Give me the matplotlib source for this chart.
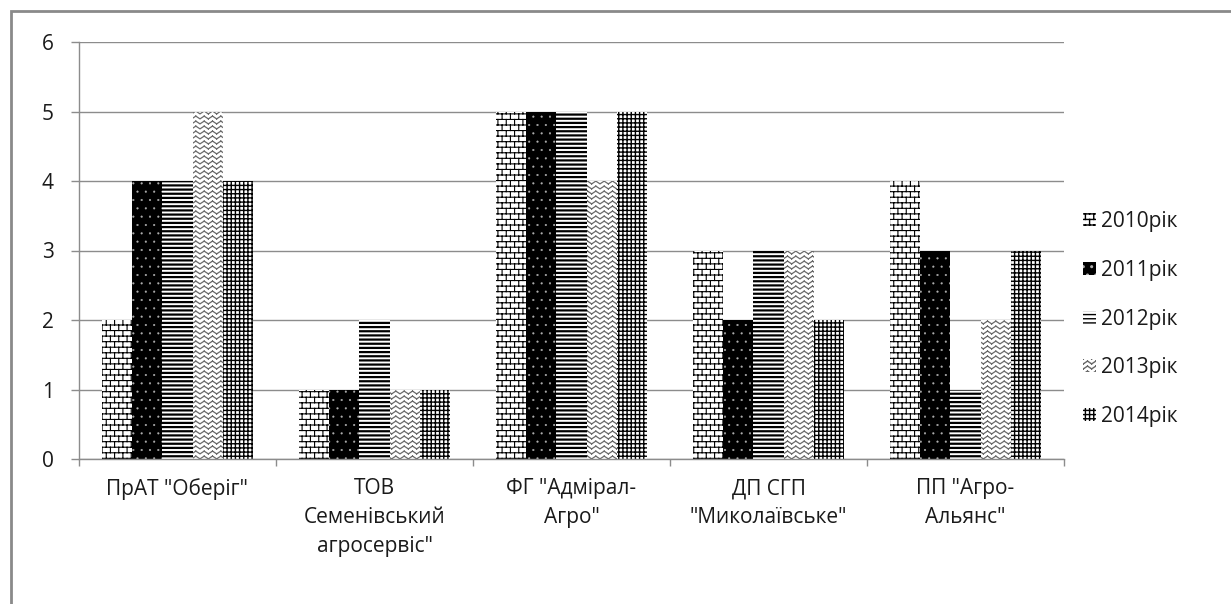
import numpy as np
import matplotlib
matplotlib.use('Agg')
import matplotlib.pyplot as plt
import matplotlib.hatch as mhatch
from matplotlib.path import Path
from matplotlib.patches import Rectangle

# ---------------- data ----------------
categories = ['ПрАТ "Оберіг"', 'ТОВ\nСеменівський\nагросервіс"', 'ФГ "Адмірал-\nАгро"',
              'ДП СГП\n"Миколаївське"', 'ПП "Агро-\nАльянс"']
series_names = ['2010рік', '2011рік', '2012рік', '2013рік', '2014рік']
v2010 = [2, 1, 5, 3, 4]
v2011 = [4, 1, 5, 2, 3]
v2012 = [4, 2, 5, 3, 1]
v2013 = [5, 1, 4, 3, 2]
v2014 = [4, 1, 5, 2, 3]
y_ticks = [0, 1, 2, 3, 4, 5, 6]

# ---------------- custom hatch patterns ----------------
def _segments_path(segs):
    verts, codes = [], []
    for (x0, y0, x1, y1) in segs:
        verts += [(x0, y0), (x1, y1)]
        codes += [Path.MOVETO, Path.LINETO]
    return Path(np.array(verts, float), np.array(codes, dtype=Path.code_type))

def brick_path(rows=18, cols=12):
    segs = []
    ys = [(i + 0.5) / rows for i in range(rows)]
    for i in range(rows):
        y0 = ys[i]
        segs.append((0, y0, 1, y0))
        off = 0.5 * (i % 2)
        for j in range(cols):
            x = (j + 0.25 + off) / cols
            if i < rows - 1:
                segs.append((x, y0, x, ys[i + 1]))
            else:
                segs.append((x, y0, x, 1.0))
                segs.append((x, 0.0, x, ys[0]))
    return _segments_path(segs)

def zigzag_path(rows=20, periods=12):
    segs = []
    amp = 0.55 / rows
    n = 2 * periods
    for i in range(rows):
        yb = (i + 0.5) / rows
        pts = [(k / n, yb + amp * ((k % 2) - 0.5)) for k in range(n + 1)]
        for a, b in zip(pts[:-1], pts[1:]):
            segs.append((a[0], a[1], b[0], b[1]))
    return _segments_path(segs)

_orig_get_path = mhatch.get_path
_orig_validate = mhatch._validate_hatch_pattern

def _validate(h):
    if h in ('B', 'Z'):
        return
    _orig_validate(h)

def _get_path(h, density=6):
    if h == 'B':
        return brick_path()
    if h == 'Z':
        return zigzag_path()
    return _orig_get_path(h, density)

mhatch._validate_hatch_pattern = _validate
mhatch.get_path = _get_path

# ---------------- figure ----------------
W, H, DPI = 1231, 604, 100
plt.rcParams['font.family'] = ['Open Sans', 'DejaVu Sans']
plt.rcParams['hatch.linewidth'] = 1.0
fig = plt.figure(figsize=(W / DPI, H / DPI), dpi=DPI)
fig.patch.set_facecolor('white')

FS = 15
left, right, top, bottom = 79, 1064, 42, 459
ax = fig.add_axes([left / W, 1 - bottom / H, (right - left) / W, (bottom - top) / H])

series = [v2010, v2011, v2012, v2013, v2014]
styles = [
    dict(facecolor='white', edgecolor='black', hatch='B', hlw=0.8),
    dict(facecolor='black', edgecolor='#b0b0b0', hatch='..', hlw=0.3),
    dict(facecolor='white', edgecolor='black', hatch='----', hlw=1.6),
    dict(facecolor='white', edgecolor='#6a6a6a', hatch='Z', hlw=0.9),
    dict(facecolor='white', edgecolor='black', hatch='++++', hlw=1.0),
]
n = len(series)
bw = 0.154
x = np.arange(len(categories))
for j, (vals, st, name) in enumerate(zip(series, styles, series_names)):
    bars = ax.bar(x + (j - (n - 1) / 2) * bw, vals, width=bw,
                  facecolor=st['facecolor'], edgecolor=st['edgecolor'],
                  hatch=st['hatch'], linewidth=0, label=name, zorder=2)
    for p in bars:
        if hasattr(p, '_hatch_linewidth'):
            p._hatch_linewidth = st['hlw']

ax.set_xlim(-0.5, len(categories) - 0.5)
ax.set_ylim(0, 6)
ax.set_yticks(y_ticks)
ax.set_yticklabels([str(t) for t in y_ticks])
ax.yaxis.grid(True, color='#8c8c8c', linewidth=1.0)
ax.set_axisbelow(True)

gray = '#8c8c8c'
for s in ['top', 'right']:
    ax.spines[s].set_visible(False)
for s in ['left', 'bottom']:
    ax.spines[s].set_color(gray)
    ax.spines[s].set_linewidth(1.0)

ax.set_xticks(x)
ax.set_xticklabels(categories, linespacing=1.5)
ax.set_xticks(np.arange(-0.5, len(categories)), minor=True)
ax.tick_params(axis='x', which='major', length=0, pad=14, labelsize=FS, labelcolor='#1a1a1a')
ax.tick_params(axis='x', which='minor', length=5, color=gray, width=1.0, direction='out')
ax.tick_params(axis='y', length=6, color=gray, width=1.0, pad=12, labelsize=FS, labelcolor='#1a1a1a')

leg = fig.legend(loc='center left', bbox_to_anchor=(1083 / W, 1 - 319 / H),
                 frameon=False, fontsize=FS, handlelength=0.6, handleheight=0.6,
                 handletextpad=0.25, labelspacing=1.33, borderaxespad=0, borderpad=0)
for t in leg.get_texts():
    t.set_color('#1a1a1a')

# outer frame of the chart area
fig.add_artist(Rectangle((11 / W, -0.05), 1.1, 1 - 11 / H + 0.05, transform=fig.transFigure,
                         facecolor='none', edgecolor='#8a8a8a', linewidth=2.0))

fig.savefig('out.png', dpi=DPI)
